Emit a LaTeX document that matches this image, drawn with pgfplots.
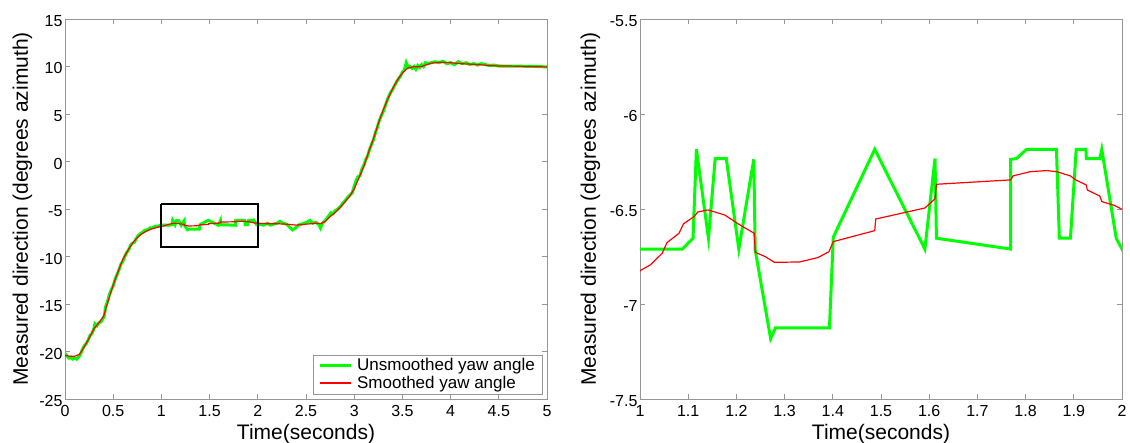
\documentclass[border=0pt]{standalone}
\usepackage{fontspec}
\setmainfont{Liberation Sans}
\usepackage{pgfplots}
\usepackage{pgfplotstable}
\pgfplotsset{compat=1.18}
\definecolor{axgray}{RGB}{150,150,150}
\definecolor{mgreen}{RGB}{0,255,0}
\definecolor{mred}{RGB}{255,0,0}

% Unsmoothed yaw angle
\pgfplotstableread{
x y
0.00 -20.2
0.02 -20.5
0.04 -20.7
0.06 -20.6
0.08 -20.8
0.10 -20.7
0.12 -20.8
0.14 -20.6
0.16 -20.3
0.18 -19.8
0.20 -19.4
0.22 -19.2
0.24 -18.8
0.26 -18.3
0.28 -18.1
0.30 -17.6
0.31 -17.1
0.33 -17.3
0.35 -17.0
0.37 -16.9
0.39 -16.6
0.41 -16.2
0.42 -15.3
0.44 -14.8
0.46 -14.0
0.48 -13.5
0.50 -13.1
0.52 -12.4
0.54 -11.9
0.56 -11.4
0.58 -10.8
0.60 -10.5
0.62 -10.0
0.64 -9.6
0.66 -9.3
0.68 -8.8
0.70 -8.6
0.72 -8.5
0.74 -8.1
0.76 -7.8
0.78 -7.6
0.80 -7.5
0.82 -7.3
0.84 -7.2
0.86 -7.2
0.88 -7.0
0.90 -7.0
0.92 -6.9
0.94 -6.8
0.96 -6.85
0.98 -6.75
1.000 -6.711
1.088 -6.711
1.110 -6.654
1.117 -6.186
1.142 -6.654
1.156 -6.235
1.179 -6.235
1.205 -6.711
1.236 -6.239
1.239 -6.716
1.271 -7.182
1.281 -7.126
1.393 -7.126
1.401 -6.649
1.487 -6.186
1.591 -6.711
1.612 -6.235
1.615 -6.654
1.769 -6.711
1.769 -6.239
1.781 -6.235
1.802 -6.186
1.864 -6.186
1.870 -6.654
1.893 -6.654
1.905 -6.186
1.925 -6.186
1.926 -6.235
1.954 -6.235
1.958 -6.186
1.988 -6.654
2.000 -6.711
2.03 -6.6
2.06 -6.7
2.10 -6.5
2.13 -6.7
2.16 -6.6
2.20 -6.5
2.23 -6.3
2.26 -6.5
2.30 -6.6
2.33 -6.9
2.36 -7.2
2.39 -7.0
2.42 -6.7
2.45 -6.6
2.48 -6.5
2.51 -6.4
2.54 -6.2
2.57 -6.5
2.60 -6.4
2.63 -6.6
2.65 -7.0
2.67 -6.5
2.70 -6.2
2.73 -5.8
2.76 -5.4
2.78 -5.5
2.80 -5.2
2.83 -5.0
2.86 -4.7
2.88 -4.4
2.90 -4.2
2.93 -3.8
2.96 -3.5
2.98 -3.3
3.00 -2.6
3.02 -2.0
3.04 -1.6
3.06 -1.5
3.08 -0.8
3.10 -0.4
3.12 0.2
3.14 0.6
3.16 1.3
3.18 1.8
3.20 2.3
3.22 3.0
3.24 3.6
3.26 4.3
3.28 4.8
3.30 5.2
3.32 5.8
3.34 6.4
3.36 6.9
3.38 7.3
3.40 7.6
3.42 8.0
3.44 8.4
3.46 8.7
3.48 9.0
3.50 9.4
3.52 9.6
3.54 10.4
3.56 9.9
3.58 10.0
3.60 9.8
3.62 10.0
3.64 9.7
3.66 10.1
3.68 9.9
3.70 10.2
3.72 10.0
3.74 10.4
3.76 10.3
3.80 10.4
3.84 10.5
3.88 10.4
3.92 10.55
3.96 10.3
4.00 10.4
4.04 10.2
4.08 10.5
4.12 10.3
4.16 10.4
4.20 10.2
4.24 10.3
4.28 10.15
4.32 10.3
4.36 10.2
4.40 10.1
4.45 10.15
4.50 10.05
4.60 10.05
4.70 10.05
4.80 10.0
4.90 10.0
5.00 9.95
}\greendata

% Smoothed yaw angle
\pgfplotstableread{
x y
0.00 -20.4
0.05 -20.5
0.10 -20.5
0.15 -20.3
0.20 -19.5
0.25 -18.6
0.30 -17.6
0.35 -17.0
0.40 -16.3
0.45 -14.6
0.50 -13.0
0.55 -11.6
0.60 -10.3
0.65 -9.4
0.70 -8.6
0.75 -8.0
0.80 -7.6
0.85 -7.3
0.90 -7.1
0.95 -6.95
1.000 -6.825
1.021 -6.795
1.046 -6.733
1.056 -6.677
1.081 -6.628
1.090 -6.579
1.112 -6.540
1.120 -6.516
1.141 -6.505
1.176 -6.532
1.204 -6.579
1.237 -6.628
1.239 -6.728
1.260 -6.751
1.279 -6.781
1.331 -6.779
1.369 -6.756
1.392 -6.725
1.401 -6.672
1.487 -6.614
1.489 -6.553
1.591 -6.495
1.612 -6.447
1.615 -6.370
1.769 -6.347
1.774 -6.326
1.809 -6.304
1.844 -6.298
1.865 -6.304
1.893 -6.326
1.904 -6.347
1.926 -6.374
1.928 -6.400
1.954 -6.432
1.958 -6.461
1.985 -6.482
2.000 -6.502
2.10 -6.55
2.20 -6.55
2.30 -6.6
2.40 -6.7
2.50 -6.6
2.60 -6.5
2.65 -6.55
2.70 -6.3
2.75 -5.8
2.80 -5.4
2.85 -4.9
2.90 -4.3
2.95 -3.7
3.00 -2.9
3.05 -1.7
3.10 -0.5
3.15 1.0
3.20 2.4
3.25 4.0
3.30 5.4
3.35 6.6
3.40 7.7
3.45 8.6
3.50 9.3
3.55 9.8
3.60 9.95
3.70 10.0
3.80 10.35
3.90 10.45
4.00 10.4
4.10 10.3
4.20 10.25
4.30 10.2
4.40 10.1
4.50 10.05
4.60 10.05
4.80 10.0
5.00 9.95
}\reddata

\pgfplotsset{
  myaxis/.style={
    scale only axis, width=482pt, height=380pt,
    axis line style={axgray, line width=0.9pt},
    every tick/.style={axgray, line width=0.8pt},
    tick align=inside, tick pos=both, major tick length=5pt,
    tick label style={font=\fontsize{16}{19}\selectfont, text=black},
    xticklabel style={yshift=-3pt},
    yticklabel style={xshift=1pt, yshift=-2pt},
    /pgf/number format/assume math mode=true,
    label style={font=\fontsize{21}{25}\selectfont},
    xlabel style={at={(axis description cs:0.5,-0.1079)}, anchor=base},
    xlabel={Time(seconds)},
    ylabel={Measured direction (degrees azimuth)},
  }
}

\begin{document}
\begin{tikzpicture}
\useasboundingbox (0,0) rectangle (1130pt,443pt);
\begin{axis}[myaxis, at={(65pt,44pt)}, anchor=south west,
  xmin=0, xmax=5, ymin=-25, ymax=15,
  xtick={0,0.5,1,1.5,2,2.5,3,3.5,4,4.5,5},
  xticklabels={0,0.5,1,1.5,2,2.5,3,3.5,4,4.5,5},
  ytick={-25,-20,-15,-10,-5,0,5,10,15},
  yticklabels={-25,-20,-15,-10,-5,0,5,10,15},
  ylabel style={at={(axis description cs:-0.0882,0.5)}, anchor=center},
  legend style={at={(axis description cs:0.9896,0.0132)}, anchor=south east,
    draw=axgray, font=\fontsize{17}{20}\selectfont,
    nodes={inner sep=2pt}, inner xsep=5pt, inner ysep=1.5pt,
    /tikz/every odd column/.append style={column sep=3pt}},
  legend cell align=left,
]
\addplot[mgreen, line width=3pt,
  legend image code/.code={\draw[mgreen, line width=3pt] (1pt,0pt) -- (32pt,0pt);}]
  table[x=x,y=y] {\greendata};
\addlegendentry{Unsmoothed yaw angle}
\addplot[mred, line width=1.2pt,
  legend image code/.code={\draw[color=mred, line width=1.6pt] (1pt,0.3pt) -- (32pt,0.3pt);}]
  table[x=x,y=y] {\reddata};
\addlegendentry{Smoothed yaw angle}
\addplot[black, line width=2pt, forget plot] coordinates {(1,-4.5) (2,-4.5) (2,-9) (1,-9) (1,-4.5)};
\end{axis}
\begin{axis}[myaxis, at={(640pt,44pt)}, anchor=south west,
  xmin=1, xmax=2, ymin=-7.5, ymax=-5.5,
  xtick={1,1.1,1.2,1.3,1.4,1.5,1.6,1.7,1.8,1.9,2},
  xticklabels={1,1.1,1.2,1.3,1.4,1.5,1.6,1.7,1.8,1.9,2},
  ytick={-7.5,-7,-6.5,-6,-5.5},
  yticklabels={-7.5,-7,-6.5,-6,-5.5},
  ylabel style={at={(axis description cs:-0.1029,0.5)}, anchor=center},
]
\addplot[mgreen, line width=3pt] table[x=x,y=y] {\greendata};
\addplot[mred, line width=1.2pt] table[x=x,y=y] {\reddata};
\end{axis}
\end{tikzpicture}
\end{document}
